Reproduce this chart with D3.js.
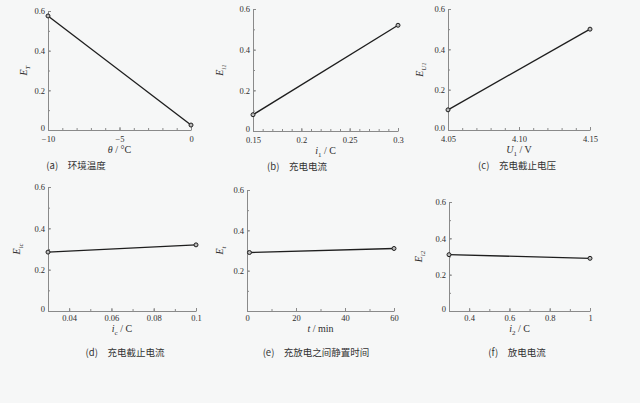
<!DOCTYPE html>
<html lang="zh">
<head>
  <meta charset="UTF-8">
  <title>影响因素</title>
  <script src="https://d3js.org/d3.v7.min.js"></script>
  <style>
    body {
      margin: 0;
      background-color: #f6f7f7;
    }
    svg {
      display: block;
    }
    .domain { stroke: #8a8a8a; }
    .tick line { stroke: #8a8a8a; }
    .tick text { fill: #2e2e2e; font-family: "Liberation Serif", serif; }
    .caption { font-family: "Noto Sans CJK SC", sans-serif; font-size: 9.5px; fill: #333; }
    .atitle { font-family: "Liberation Serif", serif; font-size: 10px; fill: #2e2e2e; }
  </style>
</head>
<body>
  <div id="chart"></div>

  <script>
    // values
    const tempX = [-10, 0];
    const tempE = [0.575, 0.025];
    const chargeCurX = [0.15, 0.3];
    const chargeCurE = [0.08, 0.52];
    const cutVoltX = [4.05, 4.15];
    const cutVoltE = [0.10, 0.50];
    const cutCurX = [0.03, 0.1];
    const cutCurE = [0.285, 0.32];
    const restX = [1, 60];
    const restE = [0.29, 0.31];
    const dischCurX = [0.3, 1];
    const dischCurE = [0.31, 0.29];

    const xTicksA = [-10, -5, 0];
    const xTicksB = [0.15, 0.2, 0.25, 0.3];
    const xTicksC = [4.05, 4.10, 4.15];
    const xTicksD = [0.04, 0.06, 0.08, 0.1];
    const xTicksE = [0, 20, 40, 60];
    const xTicksF = [0.4, 0.6, 0.8, 1];
    const yTicksMain = [0, 0.2, 0.4, 0.6];
    const yTicksE = [0.2, 0.4, 0.6];

    const captions = ['(a)', '(b)', '(c)', '(d)', '(e)', '(f)'];
    const captionText = ['环境温度', '充电电流', '充电截止电压', '充电截止电流', '充放电之间静置时间', '放电电流'];

    const zeroOr1f = d => d === 0 ? '0' : d3.format('.1f')(d);

    const panels = [
      { x: tempX, y: tempE, xd: [-10, 0], xt: xTicksA, xfmt: d3.format('d'), xminor: 1,
        yt: yTicksMain, yfmt: zeroOr1f, ylab: ['E', 'T'], xlab: ['θ', '', ' / °C'] },
      { x: chargeCurX, y: chargeCurE, xd: [0.15, 0.3], xt: xTicksB, xfmt: d => String(d), xminor: 0.01,
        yt: yTicksMain, yfmt: zeroOr1f, ylab: ['E', 'i1'], xlab: ['i', '1', ' / C'] },
      { x: cutVoltX, y: cutVoltE, xd: [4.05, 4.15], xt: xTicksC, xfmt: d3.format('.2f'), xminor: 0.01,
        yt: yTicksMain, yfmt: d3.format('.1f'), ylab: ['E', 'U1'], xlab: ['U', '1', ' / V'] },
      { x: cutCurX, y: cutCurE, xd: [0.03, 0.1], xt: xTicksD, xfmt: d => String(d), xminor: 0.01,
        yt: yTicksMain, yfmt: zeroOr1f, ylab: ['E', 'ic'], xlab: ['i', 'c', ' / C'] },
      { x: restX, y: restE, xd: [0, 60], xt: xTicksE, xfmt: d3.format('d'), xminor: 10,
        yt: yTicksE, yfmt: d3.format('.1f'), ylab: ['E', 't'], xlab: ['t', '', ' / min'] },
      { x: dischCurX, y: dischCurE, xd: [0.3, 1], xt: xTicksF, xfmt: d => String(d), xminor: 0.1,
        yt: yTicksMain, yfmt: zeroOr1f, ylab: ['E', 'i2'], xlab: ['i', '2', ' / C'] }
    ];

    // plot boxes: left, right, top(0.6), bottom(0)
    const boxes = [
      [48, 191, 11, 130], [253, 398, 9, 131], [448, 590, 9, 130],
      [48, 196, 187, 311], [247, 394, 190, 311], [449, 590, 202, 311]
    ];
    const yLabX = [27, 223, 423, 20, 223, 422];
    const capX = [76, 297, 517, 125, 316, 517];
    const rowTop = [true, true, true, false, false, false];

    const svg = d3.select('#chart').append('svg')
      .attr('width', 640).attr('height', 403);

    const serif = sel => sel.attr('font-family', null).attr('font-size', 8.5);

    panels.forEach((p, i) => {
      const [l, r, t, b] = boxes[i];
      const xs = d3.scaleLinear().domain(p.xd).range([l, r]);
      const ys = d3.scaleLinear().domain([0, 0.6]).range([b, t]);
      const g = svg.append('g');

      // minor ticks
      g.append('g').attr('transform', `translate(0,${b})`)
        .call(d3.axisBottom(xs).tickValues(d3.range(p.xd[0], p.xd[1] + 1e-9, p.xminor))
          .tickSize(-2).tickFormat(''))
        .call(a => a.select('.domain').remove());
      g.append('g').attr('transform', `translate(${l},0)`)
        .call(d3.axisLeft(ys).tickValues(d3.range(0, 0.61, 0.1)).tickSize(-2).tickFormat(''))
        .call(a => a.select('.domain').remove());

      g.append('g').attr('transform', `translate(0,${b})`)
        .call(d3.axisBottom(xs).tickValues(p.xt).tickFormat(p.xfmt)
          .tickSizeInner(-3).tickSizeOuter(0).tickPadding(rowTop[i] ? 6 : 4))
        .call(serif);
      g.append('g').attr('transform', `translate(${l},0)`)
        .call(d3.axisLeft(ys).tickValues(p.yt).tickFormat(p.yfmt)
          .tickSizeInner(-3).tickSizeOuter(0).tickPadding(3))
        .call(serif)
        .call(a => a.selectAll('.tick text').filter(d => d === 0).attr('dy', '0.1em'));

      const pts = p.x.map((v, k) => [v, p.y[k]]);
      g.append('path')
        .datum(pts)
        .attr('fill', 'none')
        .attr('stroke', '#1e1e1e')
        .attr('stroke-width', 1.3)
        .attr('d', d3.line().x(d => xs(d[0])).y(d => ys(d[1])));
      g.selectAll('circle').data(pts).enter().append('circle')
        .attr('cx', d => xs(d[0])).attr('cy', d => ys(d[1]))
        .attr('r', 2).attr('fill', '#bbb').attr('stroke', '#1e1e1e').attr('stroke-width', 1);

      // y title
      const yt = g.append('text').attr('class', 'atitle')
        .attr('transform', `translate(${yLabX[i]},${(t + b) / 2}) rotate(-90)`)
        .attr('text-anchor', 'middle');
      yt.append('tspan').attr('font-style', 'italic').text(p.ylab[0]);
      yt.append('tspan').attr('font-style', 'italic').attr('font-size', '7px').attr('dy', 3).text(p.ylab[1]);

      // x title
      const xt = g.append('text').attr('class', 'atitle')
        .attr('x', (l + r) / 2).attr('y', b + (rowTop[i] ? 23 : 21)).attr('text-anchor', 'middle');
      xt.append('tspan').attr('font-style', 'italic').text(p.xlab[0]);
      if (p.xlab[1]) xt.append('tspan').attr('font-size', '7px').attr('dy', 3).text(p.xlab[1]);
      xt.append('tspan').attr('dy', p.xlab[1] ? -3 : 0).text(p.xlab[2]);

      // caption
      g.append('text').attr('class', 'caption')
        .attr('x', capX[i]).attr('y', b + (rowTop[i] ? 39 : 45)).attr('text-anchor', 'middle')
        .text(captions[i] + '\u2003' + captionText[i]);
    });
  </script>
</body>
</html>
